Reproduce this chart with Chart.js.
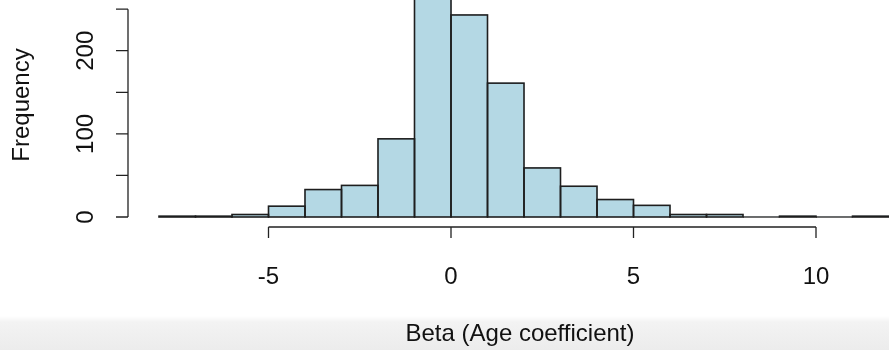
<!DOCTYPE html>
<html>
<head>
<meta charset="utf-8">
<script src="https://cdn.jsdelivr.net/npm/chart.js@4.4.0/dist/chart.umd.min.js"></script>
<style>
  html, body { margin: 0; padding: 0; }
  body {
    width: 889px; height: 350px; overflow: hidden;
    background: linear-gradient(to bottom, #fff 0px, #fff 316px, #f3f3f3 322px, #ececec 350px);
  }
  #wrap { position: relative; width: 889px; height: 350px; }
</style>
</head>
<body>
<div id="wrap"><canvas id="myChart" width="889" height="350"></canvas></div>
<script>
// histogram bins (left edges, width 1) and counts
const binStarts = [-8, -7, -6, -5, -4, -3, -2, -1, 0, 1, 2, 3, 4, 5, 6, 7, 8, 9, 10, 11];
const counts = [1, 1, 3, 13, 33, 38, 94, 285, 243, 161, 59, 37, 21, 14, 3, 3, 0, 1, 0, 1];
const xTicks = [-5, 0, 5, 10];
const yTicks = [0, 50, 100, 150, 200, 250];
const yLabels = [0, 100, 200];

const font = '24px "Liberation Sans", Arial, sans-serif';

// outline every bar like R's rect(), zero-height ones too
const barOutline = {
  id: 'barOutline',
  afterDatasetsDraw(chart) {
    const c = chart.ctx;
    const area = chart.chartArea;
    c.save();
    c.beginPath();
    c.rect(area.left - 2, area.top, area.right - area.left + 4, area.bottom - area.top + 4);
    c.clip();
    chart.getDatasetMeta(0).data.forEach((bar, i) => {
      const w = bar.width / 2;
      c.strokeStyle = '#1e1e1e';
      c.lineWidth = counts[i] > 0 ? 1.6 : 0.8;
      c.strokeRect(bar.x - w, bar.y, w * 2, bar.base - bar.y);
    });
    c.restore();
  }
};

// R-style axes, drawn with the chart's own scales
const rAxes = {
  id: 'rAxes',
  afterDraw(chart) {
    const c = chart.ctx;
    const xs = chart.scales.x, ys = chart.scales.y;
    c.save();
    c.strokeStyle = '#222';
    c.fillStyle = '#111';
    c.lineWidth = 1.3;
    c.font = font;

    // x axis
    const ax = ys.getPixelForValue(0) + 10;
    c.beginPath();
    c.moveTo(xs.getPixelForValue(xTicks[0]), ax);
    c.lineTo(xs.getPixelForValue(xTicks[xTicks.length - 1]), ax);
    xTicks.forEach(t => {
      const px = xs.getPixelForValue(t);
      c.moveTo(px, ax);
      c.lineTo(px, ax + 11);
    });
    c.stroke();
    c.textAlign = 'center';
    c.textBaseline = 'middle';
    xTicks.forEach(t => {
      c.fillText(t < 0 ? '-' + Math.abs(t) : String(t), xs.getPixelForValue(t), ax + 50);
    });
    c.fillText('Beta (Age coefficient)', 520, 334);

    // y axis
    const ay = 128;
    c.beginPath();
    c.moveTo(ay, ys.getPixelForValue(yTicks[0]));
    c.lineTo(ay, ys.getPixelForValue(yTicks[yTicks.length - 1]));
    yTicks.forEach(t => {
      const py = ys.getPixelForValue(t);
      c.moveTo(ay, py);
      c.lineTo(ay - 12, py);
    });
    c.stroke();
    yLabels.forEach(t => {
      c.save();
      c.translate(86, ys.getPixelForValue(t));
      c.rotate(-Math.PI / 2);
      c.fillText(String(t), 0, 0);
      c.restore();
    });
    c.save();
    c.translate(22, 105);
    c.rotate(-Math.PI / 2);
    c.fillText('Frequency', 0, 0);
    c.restore();
    c.restore();
  }
};

const ctx = document.getElementById('myChart').getContext('2d');
const myChart = new Chart(ctx, {
  type: 'bar',
  data: {
    datasets: [{
      data: binStarts.map((b, i) => ({ x: b + 0.5, y: counts[i] })),
      backgroundColor: '#b4d8e4',
      borderWidth: 0,
      barPercentage: 1,
      categoryPercentage: 1,
      grouped: false
    }]
  },
  options: {
    responsive: false,
    animation: false,
    layout: { padding: { left: 159, right: 0, top: 0, bottom: 133 } },
    plugins: { legend: { display: false }, tooltip: { enabled: false } },
    scales: {
      x: { type: 'linear', min: -8, max: 12, display: false, offset: false },
      y: { min: 0, max: 261, display: false }
    }
  },
  plugins: [barOutline, rAxes]
});
</script>
</body>
</html>
